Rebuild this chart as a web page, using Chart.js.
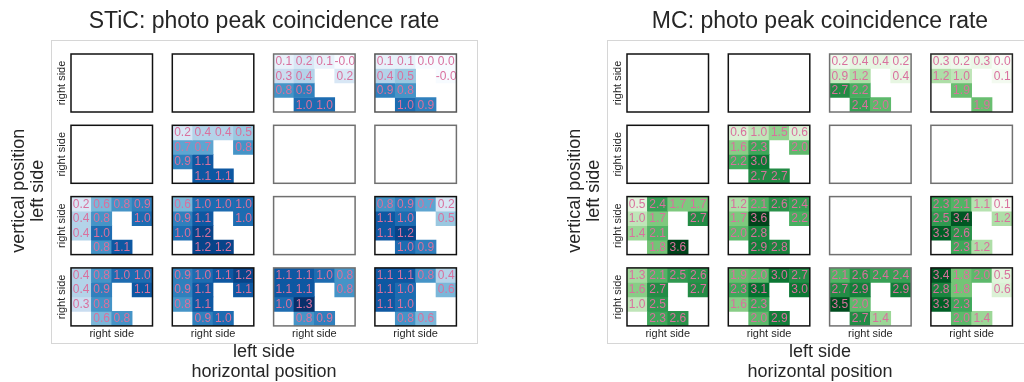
<!DOCTYPE html>
<html>
<head>
<meta charset="utf-8">
<script src="https://cdn.jsdelivr.net/npm/chart.js@4.4.0/dist/chart.umd.min.js"></script>
<style>
  body { margin: 0; width: 1024px; height: 382px; overflow: hidden; background: #fff; position: relative; }
  .panel { position: absolute; top: 0; width: 512px; height: 382px; }
  canvas { position: absolute; }
</style>
</head>
<body>
<div id="stic" class="panel" style="left:0px"></div>
<div id="mc" class="panel" style="left:556px"></div>
<script>
// 4x4 Kacheln, jede Kachel 4x4 Kanäle (null = leer)
const cellColumns = ['1', '2', '3', '4'];

const sticRow1 = [
    null,
    null,
    [[0.1, 0.2, 0.1, -0.02], [0.3, 0.4, null, 0.2], [0.8, 0.9, null, null], [null, 1.0, 1.0, null]],
    [[0.1, 0.1, 0.0, 0.0], [0.4, 0.5, null, -0.02], [0.9, 0.8, null, null], [null, 1.0, 0.9, null]]
];
const sticRow2 = [
    null,
    [[0.2, 0.4, 0.4, 0.5], [0.7, 0.7, null, 0.8], [0.9, 1.1, null, null], [null, 1.1, 1.1, null]],
    null,
    null
];
const sticRow3 = [
    [[0.2, 0.6, 0.8, 0.9], [0.4, 0.8, null, 1.0], [0.4, 1.0, null, null], [null, 0.8, 1.1, null]],
    [[0.6, 1.0, 1.0, 1.0], [0.9, 1.1, null, 1.0], [1.0, 1.2, null, null], [null, 1.2, 1.2, null]],
    null,
    [[0.8, 0.9, 0.7, 0.2], [1.1, 1.0, null, 0.5], [1.1, 1.2, null, null], [null, 1.0, 0.9, null]]
];
const sticRow4 = [
    [[0.4, 0.8, 1.0, 1.0], [0.4, 0.9, null, 1.1], [0.3, 0.8, null, null], [null, 0.6, 0.8, null]],
    [[0.9, 1.0, 1.1, 1.2], [0.9, 1.1, null, 1.1], [0.8, 1.1, null, null], [null, 0.9, 1.0, null]],
    [[1.1, 1.1, 1.0, 0.8], [1.1, 1.1, null, 0.8], [1.0, 1.3, null, null], [null, 0.8, 0.9, null]],
    [[1.1, 1.1, 0.8, 0.4], [1.1, 1.0, null, 0.6], [1.1, 1.0, null, null], [null, 0.8, 0.6, null]]
];

const mcRow1 = [
    null,
    null,
    [[0.2, 0.4, 0.4, 0.2], [0.9, 1.2, null, 0.4], [2.7, 2.2, null, null], [null, 2.4, 2.0, null]],
    [[0.3, 0.2, 0.3, 0.0], [1.2, 1.0, null, 0.1], [null, 1.9, null, null], [null, null, 1.9, null]]
];
const mcRow2 = [
    null,
    [[0.6, 1.0, 1.5, 0.6], [1.6, 2.3, null, 2.0], [2.2, 3.0, null, null], [null, 2.7, 2.7, null]],
    null,
    null
];
const mcRow3 = [
    [[0.5, 2.4, 1.7, 1.7], [1.0, 1.7, null, 2.7], [1.4, 2.1, null, null], [null, 1.8, 3.6, null]],
    [[1.2, 2.1, 2.6, 2.4], [1.7, 3.6, null, 2.2], [2.0, 2.8, null, null], [null, 2.9, 2.8, null]],
    null,
    [[2.3, 2.1, 1.1, 0.1], [2.5, 3.4, null, 1.2], [3.3, 2.6, null, null], [null, 2.3, 1.2, null]]
];
const mcRow4 = [
    [[1.3, 2.1, 2.5, 2.6], [1.6, 2.7, null, 2.7], [1.0, 2.5, null, null], [null, 2.3, 2.6, null]],
    [[1.9, 2.0, 3.0, 2.7], [2.3, 3.1, null, 3.0], [1.6, 2.3, null, null], [null, 2.0, 2.9, null]],
    [[2.1, 2.6, 2.4, 2.4], [2.7, 2.9, null, 2.9], [3.5, 2.0, null, null], [null, 2.7, 1.4, null]],
    [[3.4, 1.8, 2.0, 0.5], [2.8, 1.8, null, 0.6], [3.3, 2.3, null, null], [null, 2.0, 1.4, null]]
];

const sticMax = 1.3;
const mcMax = 3.6;

// Rahmenfarben der Kacheln
const sticFrames = [
    ['#111', '#111', '#707070', '#555'],
    ['#111', '#111', '#707070', '#707070'],
    ['#111', '#111', '#707070', '#111'],
    ['#111', '#111', '#707070', '#111']
];
const mcFrames = [
    ['#111', '#111', '#707070', '#222'],
    ['#111', '#111', '#707070', '#707070'],
    ['#111', '#111', '#707070', '#111'],
    ['#111', '#111', '#707070', '#111']
];

const blues = ['#f7fbff', '#deebf7', '#c6dbef', '#9ecae1', '#6baed6', '#4292c6', '#2171b5', '#08519c', '#08306b'];
const greens = ['#f7fcf5', '#e5f5e0', '#c7e9c0', '#a1d99b', '#74c476', '#41ab5d', '#238b45', '#006d2c', '#00441b'];

const FONT = '"Liberation Sans", Arial, sans-serif';
const textColor = '#262626';
const labelColor = '#d9709e';
Chart.defaults.font.family = FONT;
Chart.defaults.color = textColor;

function hexRgb(h) {
    return [1, 3, 5].map(i => parseInt(h.slice(i, i + 2), 16));
}

function cmap(stops, t) {
    t = Math.min(1, Math.max(0, t));
    const p = t * (stops.length - 1);
    const i = Math.min(stops.length - 2, Math.floor(p));
    const f = p - i;
    const a = hexRgb(stops[i]), b = hexRgb(stops[i + 1]);
    return 'rgb(' + a.map((v, k) => Math.round(v + (b[k] - v) * f)).join(',') + ')';
}

// hellgrauer Rahmen um das große Feld
const panelFrame = {
    id: 'panelFrame',
    afterDraw(chart) {
        const a = chart.chartArea, ctx = chart.ctx;
        ctx.save();
        ctx.strokeStyle = '#d6d6d6';
        ctx.lineWidth = 1;
        ctx.strokeRect(Math.round(a.left) + 0.5, Math.round(a.top) + 0.5,
            Math.round(a.right - a.left), Math.round(a.bottom - a.top));
        ctx.restore();
    }
};

// Zahlen in die Zellen + Rahmen der Kachel
const cellText = {
    id: 'cellText',
    afterDatasetsDraw(chart, args, opts) {
        const ctx = chart.ctx;
        ctx.save();
        ctx.font = '12px ' + FONT;
        ctx.fillStyle = labelColor;
        ctx.textAlign = 'center';
        ctx.textBaseline = 'middle';
        chart.data.datasets.forEach((ds, i) => {
            chart.getDatasetMeta(i).data.forEach((bar, j) => {
                const v = ds.rates[j];
                if (v === null) return;
                const p = bar.getCenterPoint();
                ctx.fillText(v.toFixed(1), p.x, p.y + 0.5);
            });
        });
        const a = chart.chartArea;
        ctx.strokeStyle = opts.frame;
        ctx.lineWidth = 1.5;
        ctx.strokeRect(a.left, a.top, a.right - a.left, a.bottom - a.top);
        ctx.restore();
    }
};

function outerChart(panel, title) {
    const cv = document.createElement('canvas');
    cv.width = 512;
    cv.height = 382;
    cv.style.left = '0px';
    cv.style.top = '0px';
    panel.appendChild(cv);
    new Chart(cv, {
        type: 'scatter',
        data: { datasets: [] },
        options: {
            responsive: false,
            animation: false,
            layout: { padding: { left: 8.8, right: 35, top: 0, bottom: 0 } },
            plugins: {
                legend: { display: false },
                tooltip: { enabled: false },
                title: {
                    display: true, text: title, fullSize: false, color: textColor,
                    font: { size: 23, weight: 'normal' }, padding: { top: 8.2, bottom: 3.7 }
                }
            },
            scales: {
                x: {
                    min: 0, max: 4,
                    ticks: { display: false }, grid: { display: false, drawTicks: false }, border: { display: false },
                    title: { display: true, text: ['left side', 'horizontal position'], color: textColor,
                        font: { size: 18, lineHeight: 1.1 }, padding: { top: 0.4, bottom: 0 } }
                },
                y: {
                    min: 0, max: 4,
                    ticks: { display: false }, grid: { display: false, drawTicks: false }, border: { display: false },
                    title: { display: true, text: ['vertical position', 'left side'], color: textColor,
                        font: { size: 18, lineHeight: 1.1 }, padding: { top: 0, bottom: 2.6 } }
                }
            }
        },
        plugins: [panelFrame]
    });
}

function boxChart(panel, box, col, row, stops, vmax, frame) {
    const L = col === 0 ? 15.2 : 0;
    const B = row === 3 ? 14.3 : 0;
    const bx = 71 + 101.3 * col, by = 54 + 71.3 * row, bw = 81.5, bh = 58;
    const left = Math.floor(bx - L - 2), top = Math.floor(by - 2);
    const cv = document.createElement('canvas');
    cv.width = Math.ceil(bx + bw + 2) - left;
    cv.height = Math.ceil(by + bh + B + 2) - top;
    cv.style.left = left + 'px';
    cv.style.top = top + 'px';
    panel.appendChild(cv);

    const datasets = (box || []).map((vals, r) => ({
        data: vals.map(v => v === null ? null : [3 - r, 4 - r]),
        rates: vals,
        backgroundColor: vals.map(v => v === null ? 'rgba(0,0,0,0)' : cmap(stops, v / vmax)),
        borderWidth: 0,
        barPercentage: 1,
        categoryPercentage: 1,
        grouped: false
    }));

    new Chart(cv, {
        type: 'bar',
        data: { labels: cellColumns, datasets: datasets },
        options: {
            responsive: false,
            animation: false,
            layout: {
                padding: {
                    left: bx - L - left,
                    top: by - top,
                    right: cv.width - (bx + bw - left),
                    bottom: cv.height - (by + bh + B - top)
                }
            },
            plugins: {
                legend: { display: false },
                tooltip: { enabled: false },
                cellText: { frame: frame }
            },
            scales: {
                x: {
                    display: row === 3,
                    ticks: { display: false }, grid: { display: false, drawTicks: false }, border: { display: false },
                    title: { display: true, text: 'right side', color: textColor, font: { size: 11 }, padding: { top: 1.1, bottom: 0 } }
                },
                y: {
                    display: col === 0, min: 0, max: 4,
                    ticks: { display: false }, grid: { display: false, drawTicks: false }, border: { display: false },
                    title: { display: true, text: 'right side', color: textColor, font: { size: 11 }, padding: { top: 0, bottom: 2 } }
                }
            }
        },
        plugins: [cellText]
    });
}

function buildPanel(id, title, rows, frames, stops, vmax) {
    const panel = document.getElementById(id);
    outerChart(panel, title);
    rows.forEach((boxes, r) => {
        boxes.forEach((box, c) => boxChart(panel, box, c, r, stops, vmax, frames[r][c]));
    });
}

buildPanel('stic', 'STiC: photo peak coincidence rate', [sticRow1, sticRow2, sticRow3, sticRow4], sticFrames, blues, sticMax);
buildPanel('mc', 'MC: photo peak coincidence rate', [mcRow1, mcRow2, mcRow3, mcRow4], mcFrames, greens, mcMax);
</script>
</body>
</html>
